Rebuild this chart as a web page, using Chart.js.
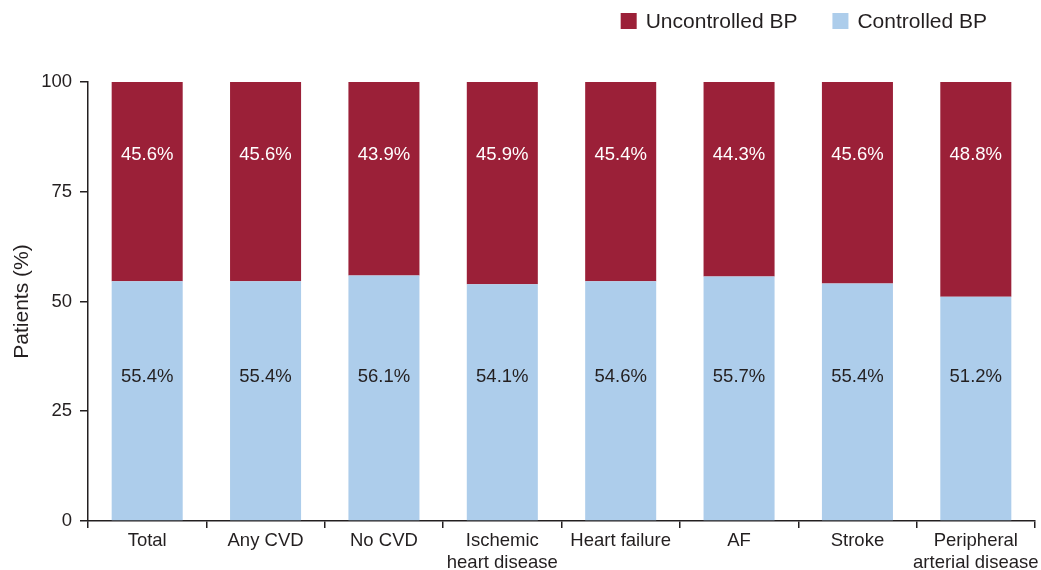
<!DOCTYPE html>
<html>
<head>
<meta charset="utf-8">
<script src="https://cdn.jsdelivr.net/npm/chart.js@4.4.1/dist/chart.umd.min.js"></script>
<style>
  html, body { margin: 0; padding: 0; background: #ffffff; }
  #wrap { width: 1041px; height: 570px; position: relative; }
</style>
</head>
<body>
<div id="wrap"><canvas id="c" width="1041" height="570"></canvas></div>
<script>
// ---- Data ----
const categories = [
  "Total", "Any CVD", "No CVD", ["Ischemic", "heart disease"], "Heart failure",
  "AF", "Stroke", ["Peripheral", "arterial disease"]
];
const controlledValues   = [54.6, 54.6, 55.9, 53.9, 54.6, 55.7, 54.1, 51.1];
const uncontrolledValues = [45.4, 45.4, 44.1, 46.1, 45.4, 44.3, 45.9, 48.9];
const controlledLabels   = ["55.4%", "55.4%", "56.1%", "54.1%", "54.6%", "55.7%", "55.4%", "51.2%"];
const uncontrolledLabels = ["45.6%", "45.6%", "43.9%", "45.9%", "45.4%", "44.3%", "45.6%", "48.8%"];
const yTicks = [0, 25, 50, 75, 100];

const FONT = "'Liberation Sans', Arial, Helvetica, sans-serif";
const TEXT = "#231f20";
const RED = "#9b2038";
const BLUE = "#adcdeb";

const barLabelPlugin = {
  id: "barLabels",
  afterDatasetsDraw(chart) {
    const ctx = chart.ctx;
    const y = chart.scales.y;
    ctx.save();
    ctx.font = "18.5px " + FONT;
    ctx.textAlign = "center";
    ctx.textBaseline = "middle";
    const m0 = chart.getDatasetMeta(0);
    const m1 = chart.getDatasetMeta(1);
    m0.data.forEach((bar, i) => {
      ctx.fillStyle = TEXT;
      ctx.fillText(controlledLabels[i], bar.x, y.getPixelForValue(32.9));
    });
    m1.data.forEach((bar, i) => {
      ctx.fillStyle = "#ffffff";
      ctx.fillText(uncontrolledLabels[i], bar.x, y.getPixelForValue(83.3));
    });
    ctx.restore();
  }
};

// custom legend drawn on canvas: items right-aligned at x=987, centered at y=21
const legendPlugin = {
  id: "topLegend",
  afterDraw(chart) {
    const ctx = chart.ctx;
    ctx.save();
    ctx.font = "21px " + FONT;
    ctx.textBaseline = "middle";
    ctx.textAlign = "left";
    const items = chart.data.datasets.slice().reverse();
    const box = 16, gapBoxText = 9, gapItems = 35, cy = 21;
    const widths = items.map(d => box + gapBoxText + ctx.measureText(d.label).width);
    const total = widths.reduce((a, b) => a + b, 0) + gapItems * (items.length - 1);
    let x = 987 - total;
    items.forEach((d, i) => {
      ctx.fillStyle = d.backgroundColor;
      ctx.fillRect(x, cy - box / 2, box, box);
      ctx.fillStyle = TEXT;
      ctx.fillText(d.label, x + box + gapBoxText, cy + 1);
      x += widths[i] + gapItems;
    });
    ctx.restore();
  }
};

new Chart(document.getElementById("c"), {
  type: "bar",
  data: {
    labels: categories,
    datasets: [
      { label: "Controlled BP", data: controlledValues, backgroundColor: BLUE,
        barPercentage: 0.6, categoryPercentage: 1.0 },
      { label: "Uncontrolled BP", data: uncontrolledValues, backgroundColor: RED,
        barPercentage: 0.6, categoryPercentage: 1.0 }
    ]
  },
  options: {
    responsive: false,
    animation: false,
    layout: { padding: { left: 0, right: 6, top: 82, bottom: -6 } },
    plugins: {
      legend: { display: false },
      tooltip: { enabled: false }
    },
    scales: {
      x: {
        stacked: true,
        offset: true,
        grid: { display: true, drawOnChartArea: false, offset: true, tickLength: 7, color: TEXT, lineWidth: 1.5 },
        border: { display: true, color: TEXT, width: 1.5 },
        ticks: { color: TEXT, font: { family: FONT, size: 18.5, lineHeight: 1.19 }, padding: 2, maxRotation: 0, autoSkip: false }
      },
      y: {
        stacked: true,
        min: 0, max: 100,
        afterBuildTicks(scale) { scale.ticks = yTicks.map(v => ({ value: v })); },
        afterFit(scale) { scale.width = 88; },
        grid: { display: true, drawOnChartArea: false, tickLength: 8, color: TEXT, lineWidth: 1.5 },
        border: { display: true, color: TEXT, width: 1.5 },
        ticks: { color: TEXT, font: { family: FONT, size: 18.5 }, padding: 8 },
        title: { display: true, text: "Patients (%)", color: TEXT, font: { family: FONT, size: 21 }, padding: { top: 10, bottom: 0 } }
      }
    }
  },
  plugins: [barLabelPlugin, legendPlugin]
});
</script>
</body>
</html>
